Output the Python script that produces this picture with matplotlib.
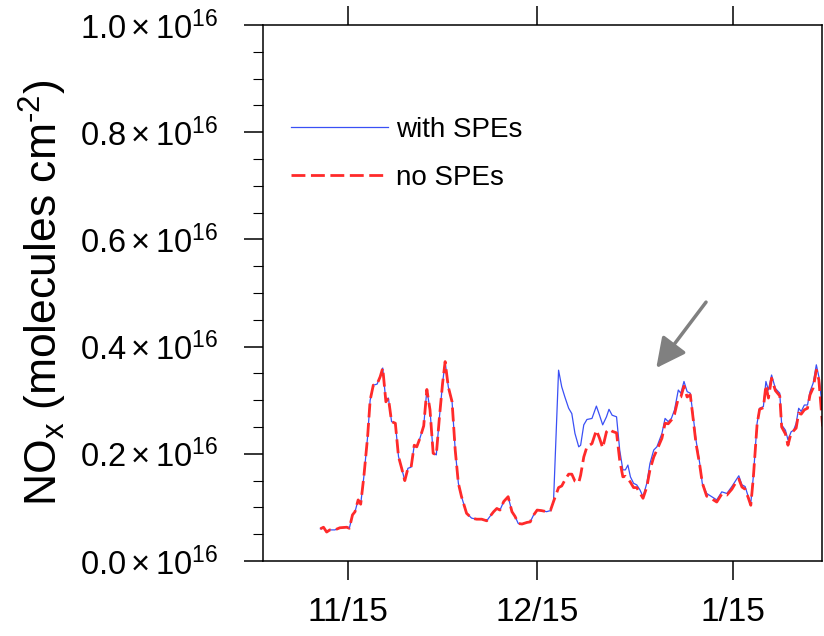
import matplotlib
matplotlib.use('Agg')
import matplotlib.pyplot as plt
from matplotlib.ticker import FixedLocator, MultipleLocator, FuncFormatter

plt.rcParams['font.family'] = ['Liberation Sans', 'DejaVu Sans']
plt.rcParams['mathtext.fontset'] = 'custom'
plt.rcParams['mathtext.rm'] = 'Liberation Sans'
plt.rcParams['mathtext.it'] = 'Liberation Sans'

# days since 1 Nov
days = [9.6, 10.1, 10.6, 11.1, 11.9, 12.7, 13.8, 14.2, 14.7, 15.1, 15.6, 16.0, 16.5, 17.1,
        17.5, 18.0, 18.6, 19.1, 19.5, 20.0, 20.4, 20.9, 21.5, 22.0, 22.5, 23.0, 23.5, 24.0,
        24.5, 24.9, 25.4, 26.0, 26.5, 27.0, 27.5, 28.0, 28.5, 29.0, 29.4, 29.9, 30.5, 31.0,
        31.5, 32.0, 32.8, 33.6, 34.4, 35.2, 36.0, 36.5, 37.1, 37.6, 38.1, 38.7, 39.4, 40.0,
        40.5, 41.0, 41.6, 42.4, 42.9, 43.4, 44.0, 44.7, 45.5, 46.1, 46.6,
        47.4, 47.9, 48.4, 49.0, 49.5, 50.0, 50.6, 50.9, 51.4, 51.9, 52.7, 53.4, 53.9, 54.4,
        55.0, 55.4, 55.9, 56.6, 57.1, 57.6, 58.0, 58.4, 58.8, 59.3, 59.8, 60.3, 60.8, 61.4,
        61.9, 62.5, 63.0, 63.8, 64.3, 64.8, 65.3, 65.8, 66.4, 66.8, 67.3, 67.8, 68.3, 68.7,
        69.2, 69.8, 70.2, 70.9, 71.7, 72.5, 73.3, 74.1, 74.9, 75.4, 76.0, 76.5, 77.0, 77.5,
        77.9, 78.3, 78.6, 78.9, 79.3, 79.9, 80.3, 80.7, 81.2, 81.8, 82.5, 82.8, 83.4, 83.8,
        84.3, 84.7, 85.1, 85.5, 85.9, 86.4, 86.9, 87.3, 87.8, 88.3, 88.7, 89.3]

# NOx column (1e16 molecules cm-2), identical in both runs before the SPE
shared = [0.060, 0.063, 0.054, 0.058, 0.058, 0.062, 0.063, 0.061, 0.086, 0.092, 0.114, 0.106,
          0.157, 0.232, 0.300, 0.328, 0.330, 0.344, 0.360, 0.297, 0.304, 0.260, 0.257, 0.195,
          0.173, 0.150, 0.173, 0.175, 0.216, 0.213, 0.229, 0.252, 0.320, 0.282, 0.201, 0.198,
          0.269, 0.332, 0.372, 0.325, 0.297, 0.207, 0.145, 0.120, 0.089, 0.080, 0.078, 0.078,
          0.075, 0.083, 0.092, 0.098, 0.095, 0.111, 0.120, 0.092, 0.083, 0.070, 0.069, 0.072,
          0.073, 0.085, 0.095, 0.094, 0.092, 0.094, 0.111]

with_rest = [0.356, 0.325, 0.306, 0.285, 0.275, 0.238, 0.213, 0.216, 0.254, 0.264,
             0.266, 0.289, 0.272, 0.254, 0.269, 0.283, 0.272, 0.269, 0.207, 0.170,
             0.170, 0.179, 0.157, 0.145, 0.142, 0.133, 0.120, 0.145, 0.182, 0.207,
             0.213, 0.238, 0.266, 0.260, 0.266, 0.282, 0.319, 0.313, 0.335, 0.316,
             0.313, 0.276, 0.226, 0.182, 0.145, 0.126, 0.120, 0.114, 0.129, 0.126,
             0.139, 0.148, 0.159, 0.142, 0.139, 0.120, 0.108, 0.157, 0.207, 0.257,
             0.285, 0.288, 0.335, 0.319, 0.347, 0.322, 0.313, 0.254, 0.244, 0.226,
             0.241, 0.244, 0.257, 0.285, 0.279, 0.291, 0.291, 0.316, 0.332, 0.366,
             0.344, 0.282]

no_rest = [0.137, 0.140, 0.151, 0.162, 0.162, 0.149, 0.146, 0.160, 0.194, 0.213,
           0.219, 0.244, 0.229, 0.211, 0.241, 0.246, 0.242, 0.239, 0.188, 0.157,
           0.158, 0.153, 0.147, 0.137, 0.137, 0.127, 0.117, 0.138, 0.170, 0.194,
           0.207, 0.229, 0.257, 0.256, 0.263, 0.274, 0.304, 0.306, 0.326, 0.306,
           0.310, 0.271, 0.220, 0.179, 0.146, 0.121, 0.116, 0.110, 0.125, 0.123,
           0.134, 0.144, 0.153, 0.138, 0.134, 0.118, 0.104, 0.155, 0.205, 0.255,
           0.283, 0.286, 0.328, 0.304, 0.341, 0.318, 0.308, 0.250, 0.237, 0.216,
           0.239, 0.243, 0.248, 0.276, 0.274, 0.282, 0.285, 0.310, 0.323, 0.356,
           0.338, 0.251]

with_spe = [v * 1e16 for v in shared + with_rest]
no_spe = [v * 1e16 for v in shared + no_rest]

tick_days = [14, 44, 75]
tick_labels = ['11/15', '12/15', '1/15']

fig = plt.figure(figsize=(8.24, 6.36), dpi=100)
ax = fig.add_axes([263 / 824, 75 / 636, 559 / 824, 536 / 636])

ax.plot(days, with_spe, color='#3a50f5', lw=0.9, label='with SPEs')
ax.plot(days, no_spe, color='#ff2a2a', lw=2.0, dashes=(5, 2), label='no SPEs')

ax.set_xlim(0.5, 89.2)
ax.set_ylim(0, 1.0e16)

ax.xaxis.set_major_locator(FixedLocator(tick_days))
ax.set_xticklabels(tick_labels)
ax.yaxis.set_major_locator(MultipleLocator(0.2e16))
ax.yaxis.set_minor_locator(MultipleLocator(0.05e16))
ax.yaxis.set_major_formatter(FuncFormatter(
    lambda v, p: '$\\mathregular{%.1f}\\times\\mathregular{10^{16}}$' % (v / 1e16)))

ax.tick_params(axis='x', which='major', direction='out', length=14, width=1.1,
               top=True, labelsize=24, pad=12)
ax.tick_params(axis='y', which='major', direction='out', length=14, width=1.1,
               labelsize=23.5, pad=18)
ax.tick_params(axis='y', which='minor', direction='out', length=7, width=0.8)
for s in ax.spines.values():
    s.set_linewidth(1.1)

ax.set_ylabel('NO$_{\\mathregular{x}}$ (molecules cm$^{\\mathregular{\u2010 2}}$)',
              fontsize=32, labelpad=8)

ax.legend(loc='upper left', bbox_to_anchor=(0.03, 0.85), frameon=False, fontsize=20,
          handlelength=3.5, handletextpad=0.3, labelspacing=0.8, borderaxespad=0)

ax.annotate('', xy=(62.9, 0.36e16), xytext=(70.8, 0.483e16),
            arrowprops=dict(arrowstyle='-|>,head_length=0.9,head_width=0.45',
                            mutation_scale=20, lw=2.5, color='#808080',
                            shrinkA=0, shrinkB=0))

fig.savefig('out.png', dpi=100)
